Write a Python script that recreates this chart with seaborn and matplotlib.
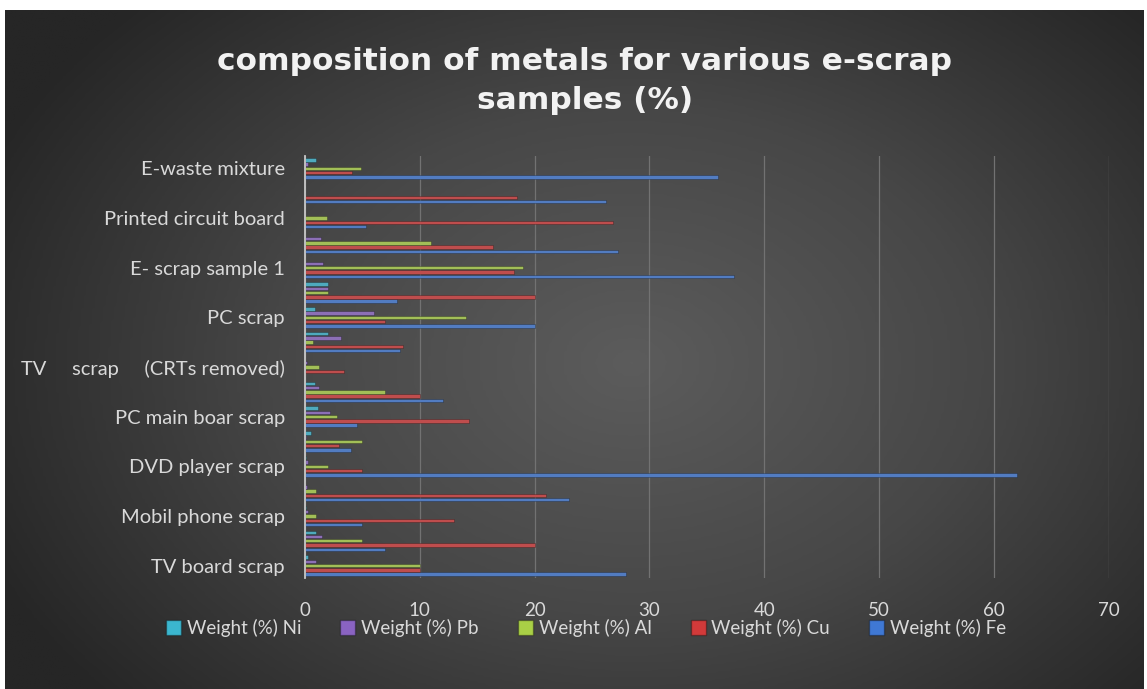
import numpy as np
import pandas as pd
import matplotlib.pyplot as plt
import seaborn as sns
from matplotlib.colors import LinearSegmentedColormap
from matplotlib.patches import Patch

# ==========================================
# DATA
# ==========================================
samples = [
    "TV board scrap", "PC board scrap", "Mobil phone scrap", "Portable audio scrap",
    "DVD player scrap", "Calculator scrap", "PC main boar scrap", "PCB scrap",
    "TV     scrap     (CRTs removed)", "Electronic scrap", "PC scrap",
    "Typical electronic scrap", "E- scrap sample 1", "E- scrap sample 2",
    "Printed circuit board", "Printed circuit board scrap", "E-waste mixture",
]
fe = [28, 7, 5, 23, 62, 4, 4.5, 12, 0, 8.3, 20, 8, 37.4, 27.3, 5.3, 26.2, 36]
cu = [10, 20, 13, 21, 5, 3, 14.3, 10, 3.4, 8.5, 7, 20, 18.2, 16.4, 26.8, 18.5, 4.1]
al = [10, 5, 1, 1, 2, 5, 2.8, 7, 1.2, 0.71, 14, 2, 19, 11, 1.9, 0, 4.9]
pb = [1.0, 1.5, 0.3, 0.14, 0.3, 0.1, 2.2, 1.2, 0.2, 3.15, 6, 2, 1.6, 1.4, 0, 0, 0.29]
ni = [0.3, 1, 0.1, 0.03, 0.05, 0.5, 1.1, 0.85, 0.04, 2.0, 0.85, 2, 0, 0, 0, 0, 1.0]

metals = ["Weight (%) Fe", "Weight (%) Cu", "Weight (%) Al", "Weight (%) Pb", "Weight (%) Ni"]
colors = ["#3f78d4", "#d23a3a", "#a9d046", "#8a63c2", "#3bb6cf"]

df = pd.DataFrame({"sample": samples, metals[0]: fe, metals[1]: cu,
                   metals[2]: al, metals[3]: pb, metals[4]: ni})
long_df = df.melt(id_vars="sample", var_name="metal", value_name="weight")

# ==========================================
# FIGURE & BACKGROUND
# ==========================================
W, H = 1147, 689
fig = plt.figure(figsize=(W / 100, H / 100), dpi=100, facecolor="white")

bg = fig.add_axes([5 / W, 0, (W - 8) / W, (H - 10) / H], zorder=-5)
gx, gy = np.meshgrid(np.linspace(0, 1, 400), np.linspace(0, 1, 300))
r = np.sqrt(((gx - 0.55) / 0.62) ** 2 + ((gy - 0.52) / 0.75) ** 2)
cmap = LinearSegmentedColormap.from_list("bg", ["#5c5c5c", "#474747", "#262626"])
bg.imshow(np.clip(r, 0, 1), cmap=cmap, aspect="auto", vmin=0, vmax=1,
          extent=[0, 1, 0, 1], interpolation="bilinear")
bg.axis("off")

ax = fig.add_axes([305 / W, (H - 578) / H, (1108.6 - 305) / W, (578 - 156) / H])
ax.set_facecolor("none")

sns.barplot(data=long_df, y="sample", x="weight", hue="metal", order=samples,
            hue_order=metals, palette=colors, orient="h", width=0.86, gap=0.2,
            errorbar=None, legend=False, ax=ax, zorder=3)

for p in ax.patches:
    p.set_edgecolor((0, 0, 0, 0.35))
    p.set_linewidth(0.5)

ax.set_ylim(-0.5, len(samples) - 0.5)
ax.set_xlim(0, 70)
ax.set_xticks(range(0, 71, 10))
ax.set_yticks(range(len(samples)))
ax.set_yticklabels([s if i % 2 == 0 else "" for i, s in enumerate(samples)])
ax.set_xlabel("")
ax.set_ylabel("")

ax.grid(axis="x", color="#727272", linewidth=0.9, zorder=0)
ax.grid(axis="y", visible=False)
for side in ["top", "right", "bottom"]:
    ax.spines[side].set_visible(False)
ax.spines["left"].set_color("#c8c8c8")
ax.spines["left"].set_linewidth(1.3)
ax.spines["left"].set_zorder(4)

ax.tick_params(axis="both", length=0, colors="#d9d9d9")
ax.tick_params(axis="x", pad=17, labelsize=13.5)
ax.tick_params(axis="y", pad=14.5, labelsize=14.5)
for lab in ax.get_xticklabels() + ax.get_yticklabels():
    lab.set_family("Lato")

# ==========================================
# TITLE & LEGEND
# ==========================================
fig.text(0.51, 1 - 81 / H, "composition of metals for various e-scrap\nsamples (%)",
         ha="center", va="center", fontsize=22.5, fontweight="bold",
         family="DejaVu Sans", color="#f2f2f2", linespacing=1.45)

handles = [Patch(facecolor=c, edgecolor=(0, 0, 0, 0.3)) for c in colors][::-1]
fig.legend(handles, metals[::-1], loc="center", bbox_to_anchor=(0.511, 1 - 628 / H),
           ncol=5, frameon=False, labelcolor="#d9d9d9",
           handlelength=0.8, handleheight=0.8, handletextpad=0.3, columnspacing=2.1,
           prop={"family": "Lato", "size": 13.5})

fig.savefig("out.png", dpi=100)
